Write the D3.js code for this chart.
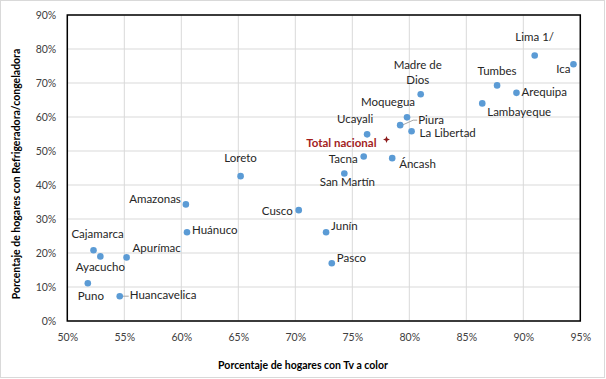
<!DOCTYPE html>
<html><head><meta charset="utf-8">
<script src="https://cdn.jsdelivr.net/npm/d3@7"></script>
<style>body{margin:0;background:#fff}svg{display:block;font-family:Lato,"Open Sans",sans-serif}</style>
</head><body><svg id="c" width="606" height="379"></svg>
<script>
const regions = ["Lima 1/","Ica","Tumbes","Arequipa","Lambayeque","Madre de Dios","Moquegua","Piura","La Libertad","Ucayali","Tacna","Áncash","San Martín","Loreto","Amazonas","Cusco","Huánuco","Cajamarca","Ayacucho","Puno","Apurímac","Huancavelica","Junín","Pasco"];
const tvColor = [91.0,94.4,87.7,89.4,86.4,81.0,79.8,79.2,80.2,76.3,76.0,78.5,74.3,65.2,60.4,70.3,60.5,52.3,52.9,51.8,55.2,54.6,72.7,73.2];
const refrigeradora = [78.1,75.5,69.3,67.1,64.0,66.7,59.9,57.6,55.8,54.9,48.4,47.9,43.4,42.6,34.3,32.6,26.1,20.8,19.0,11.1,18.7,7.3,26.1,17.0];
const totalNacional = {name:"Total nacional", x:78.0, y:53.4};
const xTicks = [50,55,60,65,70,75,80,85,90,95];
const yTicks = [0,10,20,30,40,50,60,70,80,90];
// label placement: [dx, dy, anchor]
const labelOffsets = [[0,-14,"middle"],[-3,9,"end"],[0,-10,"middle"],[5,3,"start"],[5,13,"start"],[-3,-10,"middle"],[-19,-11,"middle"],[18,-1,"start"],[8,6,"start"],[-12,-11,"middle"],[-6,7,"end"],[7,10,"start"],[3,13,"middle"],[0,-14,"middle"],[-5,-1,"end"],[-6,5,"end"],[5,2,"start"],[4,-12,"middle"],[0,15,"middle"],[3,17,"middle"],[6,-5,"start"],[10,3,"start"],[5,-2,"start"],[5,-1,"start"]];

const svg = d3.select("#c");
svg.append("rect").attr("x",0.5).attr("y",0.5).attr("width",604).attr("height",377).attr("fill","#fff").attr("stroke","#d9d9d9");
const L=67.3,R=580.3,T=15,B=321;
const x = d3.scaleLinear().domain([50,95]).range([L,R]);
const y = d3.scaleLinear().domain([0,90]).range([B,T]);

const g = svg.append("g");
g.selectAll(".vg").data(xTicks).join("line").attr("x1",d=>x(d)).attr("x2",d=>x(d)).attr("y1",T).attr("y2",B).attr("stroke","#d9d9d9");
g.selectAll(".hg").data(yTicks).join("line").attr("y1",d=>y(d)).attr("y2",d=>y(d)).attr("x1",L).attr("x2",R).attr("stroke","#d9d9d9");

const xa = svg.append("g").attr("transform",`translate(0,${B})`).call(d3.axisBottom(x).tickValues(xTicks).tickFormat(d=>d+"%").tickSize(0).tickPadding(13));
xa.select(".domain").remove();
xa.selectAll("text").attr("font-size",10.5).attr("fill","#404040").attr("font-family","Lato,sans-serif");
const ya = svg.append("g").attr("transform",`translate(${L},0)`).call(d3.axisLeft(y).tickValues(yTicks).tickFormat(d=>d+"%").tickSize(0).tickPadding(11));
ya.select(".domain").remove();
ya.selectAll("text").attr("font-size",10.5).attr("fill","#404040").attr("font-family","Lato,sans-serif");

svg.append("rect").attr("x",L).attr("y",T).attr("width",R-L).attr("height",B-T).attr("fill","none").attr("stroke","#000").attr("stroke-width",1.5);

const data = regions.map((n,i)=>({name:n,x:tvColor[i],y:refrigeradora[i],off:labelOffsets[i]}));

// leader lines
const piura = data.find(d=>d.name==="Piura");
svg.append("polyline").attr("points",`${x(piura.x)+2},${y(piura.y)} ${x(piura.x)+13},${y(piura.y)-5} ${x(piura.x)+17},${y(piura.y)-5}`).attr("fill","none").attr("stroke","#a6a6a6");
const hv = data.find(d=>d.name==="Huancavelica");
svg.append("line").attr("x1",x(hv.x)+3).attr("x2",x(hv.x)+9).attr("y1",y(hv.y)).attr("y2",y(hv.y)).attr("stroke","#a6a6a6");

svg.selectAll(".pt").data(data).join("circle").attr("cx",d=>x(d.x)).attr("cy",d=>y(d.y)).attr("r",3.3).attr("fill","#5b9bd5");

const lab = svg.append("g").attr("font-size",11.5).attr("fill","#262626");
data.forEach(d=>{
  const [dx,dy,a] = d.off;
  if(d.name==="Madre de Dios"){
    lab.append("text").attr("x",x(d.x)+dx).attr("y",y(d.y)-25).attr("text-anchor","middle").text("Madre de");
    lab.append("text").attr("x",x(d.x)+dx).attr("y",y(d.y)-10).attr("text-anchor","middle").text("Dios");
  } else {
    lab.append("text").attr("x",x(d.x)+dx).attr("y",y(d.y)+dy).attr("text-anchor",a).text(d.name);
  }
});

// total nacional
const tx = x(totalNacional.x), ty = y(totalNacional.y);
svg.append("path").attr("d","M0,-3.5L1,-1L3.5,0L1,1L0,3.5L-1,1L-3.5,0L-1,-1Z").attr("transform",`translate(${tx},${ty})`).attr("fill","#8b1a1a");
svg.append("text").attr("x",tx-10).attr("y",ty+7.5).attr("text-anchor","end").attr("font-size",11.5).attr("font-weight","bold").attr("fill","#a31d1d").text(totalNacional.name);

svg.append("text").attr("x",303).attr("y",369).attr("text-anchor","middle").attr("font-size",10.5).attr("font-weight","bold").attr("fill","#000").text("Porcentaje  de hogares con Tv a color");
svg.append("text").attr("transform","translate(20,174) rotate(-90)").attr("text-anchor","middle").attr("font-size",10.5).attr("font-weight","bold").attr("fill","#000").text("Porcentaje  de hogares con Refrigeradora/congeladora");
</script></body></html>
